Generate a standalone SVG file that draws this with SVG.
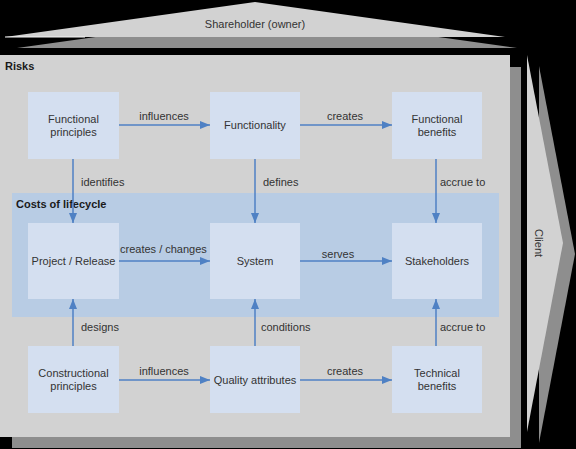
<svg xmlns="http://www.w3.org/2000/svg" width="576" height="449" viewBox="0 0 576 449">
<defs>
<style>
.t{font-family:"Liberation Sans",Arial,sans-serif;font-size:11px;fill:#333333}
.c{text-anchor:middle}
.b{font-weight:bold;fill:#1a1a1a}
.light{fill:#d2d2d2}
.shadow{fill:#8e8e8e}
.node{fill:#d4dff0}
.conn{stroke:#4f81c4;stroke-width:1.5;fill:none;marker-end:url(#ah)}
.hl{stroke:#f4f4f4;stroke-width:1;fill:none}
</style>
<marker id="ah" viewBox="0 0 10 8" refX="10" refY="4" markerWidth="10" markerHeight="8" markerUnits="userSpaceOnUse" orient="auto">
<path d="M0,0 L10,4 L0,8 z" fill="#4f81c4"/>
</marker>
</defs>
<rect x="0" y="0" width="576" height="449" fill="#000"/>

<g id="shareholder">
<polygon class="shadow" points="17,48 267,13 517,48"/>
<polygon class="light" points="5,37 255,2 505,37"/>
<polyline class="hl" points="5,37 85,37"/>
<text class="t c" x="255" y="28">Shareholder (owner)</text>
</g>

<g id="client">
<polygon class="shadow" points="539,66 575,254 539,443"/>
<polygon class="light" points="527,55 563,243 527,432"/>
<text class="t c" transform="translate(535,243) rotate(90)">Client</text>
</g>

<g id="risks">
<rect class="shadow" x="12" y="67" width="509" height="381"/>
<rect class="light" x="0" y="55" width="510" height="382"/>
<text class="t b" x="5" y="70">Risks</text>
</g>

<g id="costs">
<rect x="12" y="193" width="487" height="124" fill="#b8cce4"/>
<text class="t b" x="16" y="208">Costs of lifecycle</text>
</g>

<g id="functional-principles">
<rect class="node" x="28" y="92" width="91" height="67"/>
<text class="t c" x="73.5" y="123">Functional</text>
<text class="t c" x="73.5" y="136">principles</text>
</g>
<g id="functionality">
<rect class="node" x="210" y="92" width="90" height="67"/>
<text class="t c" x="255" y="129">Functionality</text>
</g>
<g id="functional-benefits">
<rect class="node" x="392" y="92" width="90" height="67"/>
<text class="t c" x="437" y="123">Functional</text>
<text class="t c" x="437" y="136">benefits</text>
</g>

<g id="project-release">
<rect class="node" x="28" y="223" width="91" height="76"/>
<text class="t c" x="73.5" y="265">Project / Release</text>
</g>
<g id="system">
<rect class="node" x="210" y="223" width="90" height="76"/>
<text class="t c" x="255" y="265">System</text>
</g>
<g id="stakeholders">
<rect class="node" x="392" y="223" width="90" height="76"/>
<text class="t c" x="437" y="265">Stakeholders</text>
</g>

<g id="constructional-principles">
<rect class="node" x="28" y="346" width="91" height="67"/>
<text class="t c" x="73.5" y="377">Constructional</text>
<text class="t c" x="73.5" y="390">principles</text>
</g>
<g id="quality-attributes">
<rect class="node" x="210" y="346" width="90" height="67"/>
<text class="t c" x="255" y="384">Quality attributes</text>
</g>
<g id="technical-benefits">
<rect class="node" x="392" y="346" width="90" height="67"/>
<text class="t c" x="437" y="377">Technical</text>
<text class="t c" x="437" y="390">benefits</text>
</g>

<g id="connectors">
<line class="conn" x1="119" y1="125" x2="210" y2="125"/>
<line class="conn" x1="300" y1="125" x2="392" y2="125"/>
<line class="conn" x1="73" y1="159" x2="73" y2="223"/>
<line class="conn" x1="255" y1="159" x2="255" y2="223"/>
<line class="conn" x1="436" y1="159" x2="436" y2="223"/>
<line class="conn" x1="119" y1="261" x2="210" y2="261"/>
<line class="conn" x1="300" y1="261" x2="392" y2="261"/>
<line class="conn" x1="73" y1="346" x2="73" y2="299"/>
<line class="conn" x1="255" y1="346" x2="255" y2="299"/>
<line class="conn" x1="436" y1="346" x2="436" y2="299"/>
<line class="conn" x1="119" y1="380" x2="210" y2="380"/>
<line class="conn" x1="300" y1="380" x2="392" y2="380"/>
<text class="t c" x="164" y="120">influences</text>
<text class="t c" x="345" y="120">creates</text>
<text class="t" x="81" y="186">identifies</text>
<text class="t" x="263" y="186">defines</text>
<text class="t" x="440" y="186">accrue to</text>
<text class="t" x="120" y="253">creates / changes</text>
<text class="t c" x="338" y="258">serves</text>
<text class="t" x="81" y="331">designs</text>
<text class="t" x="261" y="331">conditions</text>
<text class="t" x="440" y="331">accrue to</text>
<text class="t c" x="164" y="375">influences</text>
<text class="t c" x="345" y="375">creates</text>
</g>
</svg>
